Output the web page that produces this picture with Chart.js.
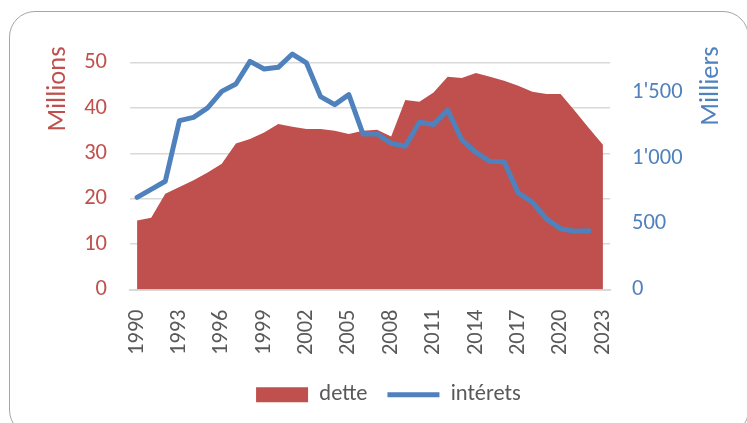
<!DOCTYPE html>
<html>
<head>
<meta charset="utf-8">
<script src="https://cdn.jsdelivr.net/npm/chart.js@4/dist/chart.umd.min.js"></script>
<style>
  html, body { margin: 0; padding: 0; background: #fff; overflow: hidden; }
  #wrap { position: relative; width: 747px; height: 423px; }
  #frame {
    position: absolute; left: 9px; top: 11px; width: 740px; height: 425px;
    border: 1.5px solid #a6a6a6; border-radius: 26px; box-sizing: border-box;
  }
  canvas { position: absolute; left: 0; top: 0; }
</style>
</head>
<body>
<div id="wrap">
  <div id="frame"></div>
  <canvas id="chart" width="747" height="423"></canvas>
</div>
<script>
const years = [
  "1990", "1991", "1992", "1993", "1994", "1995", "1996", "1997", "1998", "1999",
  "2000", "2001", "2002", "2003", "2004", "2005", "2006", "2007", "2008", "2009",
  "2010", "2011", "2012", "2013", "2014", "2015", "2016", "2017", "2018", "2019",
  "2020", "2021", "2022", "2023",
];
// dette, in millions (left axis)
const dette = [
  15.2, 15.8, 21.1, 22.6, 24.1, 25.8, 27.7, 32.2, 33.2, 34.6,
  36.5, 35.9, 35.4, 35.4, 35.0, 34.3, 35.0, 35.2, 33.7, 41.8,
  41.4, 43.4, 46.9, 46.6, 47.7, 46.9, 46.0, 44.9, 43.6, 43.1,
  43.1, 39.4, 35.6, 31.9,
];
// intérets, in thousands (right axis)
const interets = [
  702, 763, 824, 1286, 1311, 1383, 1509, 1565, 1737, 1679,
  1692, 1793, 1725, 1469, 1408, 1484, 1185, 1185, 1113, 1091,
  1273, 1256, 1367, 1140, 1045, 976, 973, 736, 665, 538,
  462, 444, 447, null,
];
const leftTicks = [0, 10, 20, 30, 40, 50];
const rightTicks = [0, 500, 1000, 1500];

const RED = "#c0504d";
const BLUE = "#4f81bd";
const GREY = "#595959";
const FONT = "Calibri, Carlito, Lato, sans-serif";
const FS = 22.5;

function swissNumber(v) {
  if (v < 1000) return String(v);
  return Math.floor(v / 1000) + "'" + String(v % 1000).padStart(3, "0");
}

const axisTitles = {
  id: "axisTitles",
  afterLayout(chart) {
    // legend sits a little right of centre and higher in the original
    chart.legend.left += 15;
    chart.legend.right += 15;
    chart.legend.top -= 5;
    chart.legend.bottom -= 5;
  },
  afterDraw(chart) {
    const ctx = chart.ctx;
    const draw = (text, x, y, color) => {
      ctx.save();
      ctx.translate(x, y);
      ctx.rotate(-Math.PI / 2);
      ctx.font = "26.5px " + FONT;
      ctx.fillStyle = color;
      ctx.textAlign = "center";
      ctx.textBaseline = "middle";
      ctx.fillText(text, 0, 0);
      ctx.restore();
    };
    draw("Millions", 58, 89, RED);
    draw("Milliers", 711, 86, BLUE);
  },
};

new Chart(document.getElementById("chart").getContext("2d"), {
  type: "line",
  data: {
    labels: years,
    datasets: [
      {
        label: "dette",
        data: dette,
        yAxisID: "y",
        backgroundColor: RED,
        borderWidth: 0,
        fill: "origin",
        pointRadius: 0,
        tension: 0,
        order: 2,
      },
      {
        label: "intérets",
        data: interets,
        yAxisID: "y2",
        borderColor: BLUE,
        borderWidth: 5,
        borderCapStyle: "round",
        borderJoinStyle: "round",
        fill: false,
        pointRadius: 0,
        tension: 0,
        order: 1,
      },
    ],
  },
  options: {
    responsive: false,
    animation: false,
    layout: { padding: { top: 40, left: 0, right: 0, bottom: 2 } },
    plugins: {
      tooltip: { enabled: false },
      legend: {
        position: "bottom",
        labels: {
          usePointStyle: true,
          pointStyleWidth: 52,
          boxHeight: 15,
          padding: 20,
          color: GREY,
          font: { family: FONT, size: FS },
          generateLabels: () => [
            {
              text: "dette", fillStyle: RED, strokeStyle: RED,
              lineWidth: 0, pointStyle: "rect", datasetIndex: 0, fontColor: GREY,
            },
            {
              text: "intérets", fillStyle: BLUE, strokeStyle: BLUE,
              lineWidth: 5, pointStyle: "line", datasetIndex: 1, fontColor: GREY,
            },
          ],
        },
      },
    },
    scales: {
      x: {
        offset: true,
        grid: { display: false, drawTicks: false },
        border: { display: true, color: "#d9d9d9", width: 2 },
        ticks: {
          autoSkip: false,
          maxRotation: 90,
          minRotation: 90,
          padding: 20,
          color: GREY,
          font: { family: FONT, size: FS },
          callback: (v, i) => (i % 3 === 0 ? years[i] : ""),
        },
        afterFit: (s) => { s.height = 79; },
      },
      y: {
        position: "left",
        min: 0,
        max: 55,
        grid: { color: "#d9d9d9", lineWidth: 1.6, drawTicks: false },
        border: { display: false },
        ticks: {
          stepSize: 10,
          padding: 23,
          color: RED,
          font: { family: FONT, size: FS },
        },
        afterBuildTicks: (s) => {
          s.ticks = leftTicks.map((v) => ({ value: v }));
        },
        afterFit: (s) => { s.width = 130; },
      },
      y2: {
        position: "right",
        min: 0,
        max: 1900,
        grid: { display: false, drawTicks: false },
        border: { display: false },
        ticks: {
          stepSize: 500,
          padding: 22,
          color: BLUE,
          font: { family: FONT, size: FS },
          callback: (v) => swissNumber(v),
        },
        afterBuildTicks: (s) => {
          s.ticks = rightTicks.map((v) => ({ value: v }));
        },
        afterFit: (s) => { s.width = 137; },
      },
    },
  },
  plugins: [axisTitles],
});
</script>
</body>
</html>
